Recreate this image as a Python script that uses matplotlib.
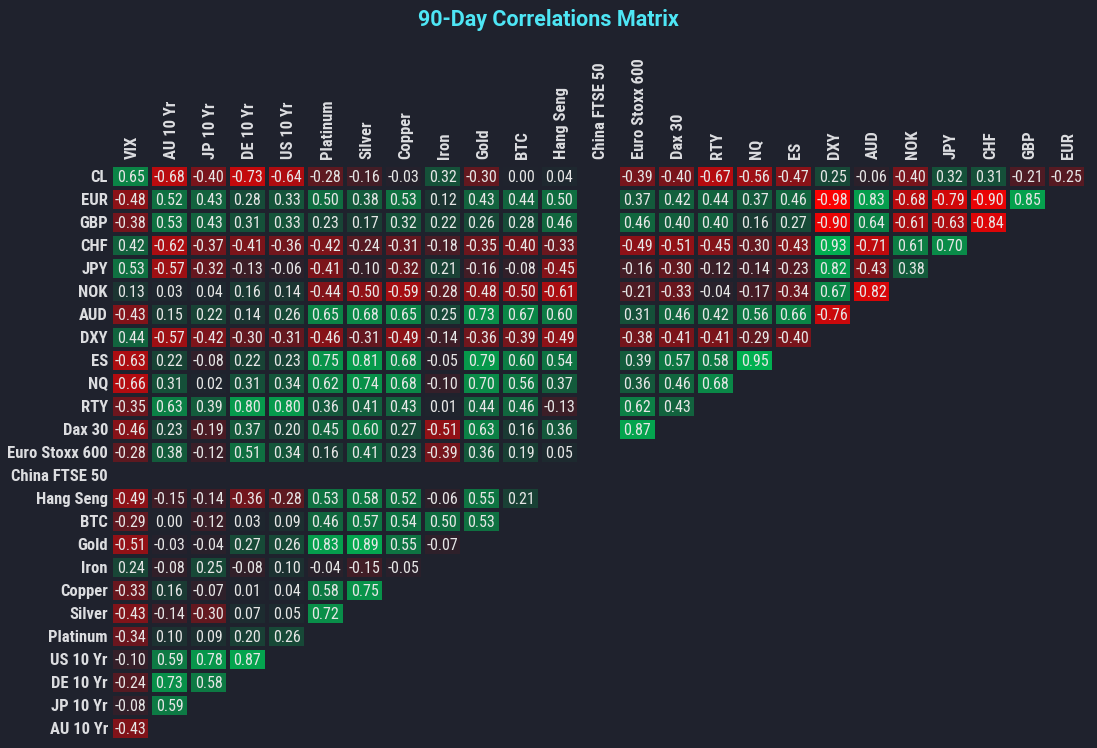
import matplotlib
matplotlib.use("Agg")
import matplotlib.pyplot as plt
import numpy as np
from matplotlib.colors import LinearSegmentedColormap

row_labels = ["CL", "EUR", "GBP", "CHF", "JPY", "NOK", "AUD", "DXY", "ES", "NQ", "RTY",
              "Dax 30", "Euro Stoxx 600", "China FTSE 50", "Hang Seng", "BTC", "Gold", "Iron",
              "Copper", "Silver", "Platinum", "US 10 Yr", "DE 10 Yr", "JP 10 Yr", "AU 10 Yr"]
col_labels = ["VIX", "AU 10 Yr", "JP 10 Yr", "DE 10 Yr", "US 10 Yr", "Platinum", "Silver",
              "Copper", "Iron", "Gold", "BTC", "Hang Seng", "China FTSE 50", "Euro Stoxx 600",
              "Dax 30", "RTY", "NQ", "ES", "DXY", "AUD", "NOK", "JPY", "CHF", "GBP", "EUR"]

nan = np.nan
cl = [0.65, -0.68, -0.40, -0.73, -0.64, -0.28, -0.16, -0.03, 0.32, -0.30, 0.00, 0.04, nan,
      -0.39, -0.40, -0.67, -0.56, -0.47, 0.25, -0.06, -0.40, 0.32, 0.31, -0.21, -0.25]
eur = [-0.48, 0.52, 0.43, 0.28, 0.33, 0.50, 0.38, 0.53, 0.12, 0.43, 0.44, 0.50, nan,
       0.37, 0.42, 0.44, 0.37, 0.46, -0.98, 0.83, -0.68, -0.79, -0.90, 0.85]
gbp = [-0.38, 0.53, 0.43, 0.31, 0.33, 0.23, 0.17, 0.32, 0.22, 0.26, 0.28, 0.46, nan,
       0.46, 0.40, 0.40, 0.16, 0.27, -0.90, 0.64, -0.61, -0.63, -0.84]
chf = [0.42, -0.62, -0.37, -0.41, -0.36, -0.42, -0.24, -0.31, -0.18, -0.35, -0.40, -0.33, nan,
       -0.49, -0.51, -0.45, -0.30, -0.43, 0.93, -0.71, 0.61, 0.70]
jpy = [0.53, -0.57, -0.32, -0.13, -0.06, -0.41, -0.10, -0.32, 0.21, -0.16, -0.08, -0.45, nan,
       -0.16, -0.30, -0.12, -0.14, -0.23, 0.82, -0.43, 0.38]
nok = [0.13, 0.03, 0.04, 0.16, 0.14, -0.44, -0.50, -0.59, -0.28, -0.48, -0.50, -0.61, nan,
       -0.21, -0.33, -0.04, -0.17, -0.34, 0.67, -0.82]
aud = [-0.43, 0.15, 0.22, 0.14, 0.26, 0.65, 0.68, 0.65, 0.25, 0.73, 0.67, 0.60, nan,
       0.31, 0.46, 0.42, 0.56, 0.66, -0.76]
dxy = [0.44, -0.57, -0.42, -0.30, -0.31, -0.46, -0.31, -0.49, -0.14, -0.36, -0.39, -0.49, nan,
       -0.38, -0.41, -0.41, -0.29, -0.40]
es = [-0.63, 0.22, -0.08, 0.22, 0.23, 0.75, 0.81, 0.68, -0.05, 0.79, 0.60, 0.54, nan,
      0.39, 0.57, 0.58, 0.95]
nq = [-0.66, 0.31, 0.02, 0.31, 0.34, 0.62, 0.74, 0.68, -0.10, 0.70, 0.56, 0.37, nan,
      0.36, 0.46, 0.68]
rty = [-0.35, 0.63, 0.39, 0.80, 0.80, 0.36, 0.41, 0.43, 0.01, 0.44, 0.46, -0.13, nan,
       0.62, 0.43]
dax = [-0.46, 0.23, -0.19, 0.37, 0.20, 0.45, 0.60, 0.27, -0.51, 0.63, 0.16, 0.36, nan, 0.87]
stoxx = [-0.28, 0.38, -0.12, 0.51, 0.34, 0.16, 0.41, 0.23, -0.39, 0.36, 0.19, 0.05, nan]
ftse = [nan] * 12
hang_seng = [-0.49, -0.15, -0.14, -0.36, -0.28, 0.53, 0.58, 0.52, -0.06, 0.55, 0.21]
btc = [-0.29, 0.00, -0.12, 0.03, 0.09, 0.46, 0.57, 0.54, 0.50, 0.53]
gold = [-0.51, -0.03, -0.04, 0.27, 0.26, 0.83, 0.89, 0.55, -0.07]
iron = [0.24, -0.08, 0.25, -0.08, 0.10, -0.04, -0.15, -0.05]
copper = [-0.33, 0.16, -0.07, 0.01, 0.04, 0.58, 0.75]
silver = [-0.43, -0.14, -0.30, 0.07, 0.05, 0.72]
platinum = [-0.34, 0.10, 0.09, 0.20, 0.26]
us10 = [-0.10, 0.59, 0.78, 0.87]
de10 = [-0.24, 0.73, 0.58]
jp10 = [-0.08, 0.59]
au10 = [-0.43]

rows = [cl, eur, gbp, chf, jpy, nok, aud, dxy, es, nq, rty, dax, stoxx, ftse,
        hang_seng, btc, gold, iron, copper, silver, platinum, us10, de10, jp10, au10]

BG = "#1f222d"
# narrow faces first, whichever is installed wins
FONTS = ["Roboto Condensed", "DejaVu Sans Condensed", "Liberation Sans Narrow", "Roboto"]

n_rows, n_cols = len(row_labels), len(col_labels)
mat = np.full((n_rows, n_cols), np.nan)
for i, r in enumerate(rows):
    mat[i, :len(r)] = r
data = np.ma.masked_invalid(mat)

cmap = LinearSegmentedColormap.from_list("corr", ["#ff0000", BG, "#00b753"])

fig = plt.figure(figsize=(10.97, 7.48), dpi=100, facecolor=BG)
ax = fig.add_axes([111 / 1097, 8 / 748, 975 / 1097, 575 / 748])
ax.set_facecolor(BG)
ax.pcolormesh(data, cmap=cmap, vmin=-1, vmax=1, edgecolors=BG, linewidth=1.5)
ax.set_xlim(0, n_cols)
ax.set_ylim(n_rows, 0)
for s in ax.spines.values():
    s.set_visible(False)
ax.set_xticks([])
ax.set_yticks([])

for i in range(n_rows):
    for j in range(n_cols):
        v = mat[i, j]
        if np.isnan(v):
            continue
        ax.text(j + 0.5, i + 0.53, f"{v:.2f}", ha="center", va="center",
                color="#e6e6e6", fontsize=11.5, family=FONTS)

for i, lab in enumerate(row_labels):
    ax.text(-0.08, i + 0.53, lab, ha="right", va="center", color="#dcdde0",
            fontsize=12, fontweight="bold", family=FONTS)
for j, lab in enumerate(col_labels):
    ax.text(j + 0.55, -0.25, lab, ha="center", va="bottom", rotation=90,
            color="#dcdde0", fontsize=12, fontweight="bold", family=FONTS)

fig.text(0.5, 1 - 20 / 748, "90-Day Correlations Matrix", ha="center", va="center",
         color="#4ee6f5", fontsize=15.5, fontweight="bold", family=["Roboto", "DejaVu Sans"])

fig.savefig("out.png", dpi=100, facecolor=BG)
